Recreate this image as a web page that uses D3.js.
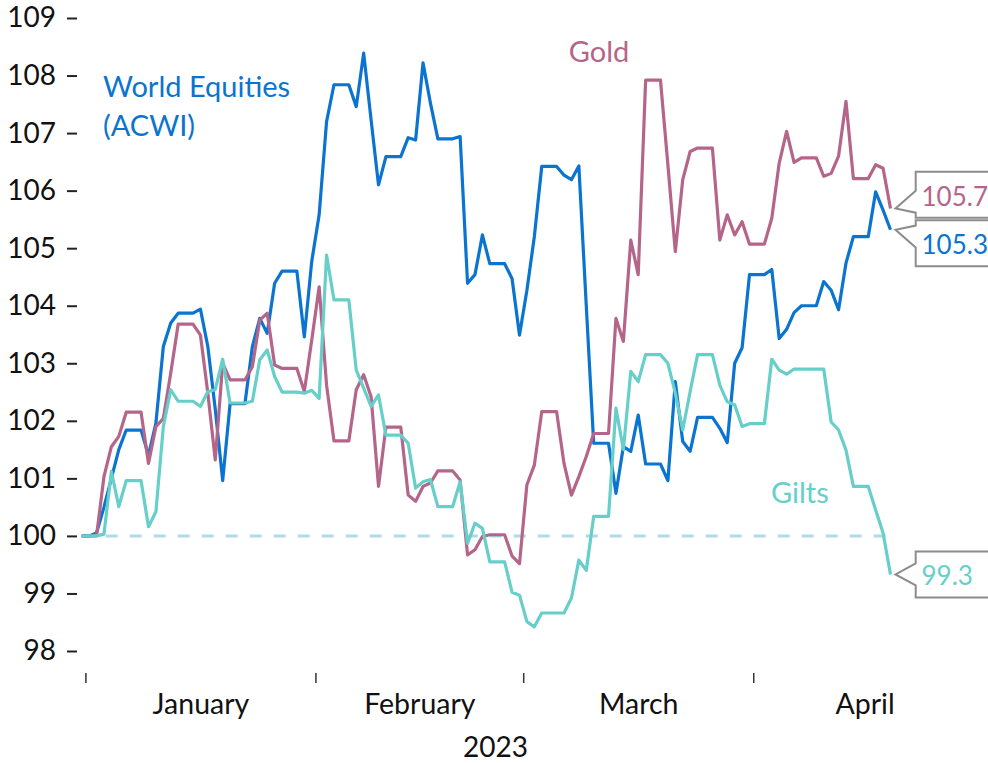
<!DOCTYPE html>
<html>
<head>
<meta charset="utf-8">
<script src="https://cdn.jsdelivr.net/npm/d3@7"></script>
<style>
  body { margin: 0; background: #fff; }
  svg { display: block; }
  text { font-family: Lato, "Open Sans", sans-serif; }
</style>
</head>
<body>
<div id="chart"></div>
<script>
// daily index, rebased to 100 on 31 Dec 2022 (weekends carry Friday's value)
const startDate = new Date(2022, 11, 31);

const equities = [
  100, 100, 100.05, 100.5, 101.0, 101.5, 101.84, 101.84, 101.84, 101.4,
  101.96, 103.29, 103.7, 103.87, 103.87, 103.87, 103.94, 103.29, 102.2, 100.96,
  102.3, 102.3, 102.3, 103.29, 103.78, 103.52, 104.39, 104.6, 104.6, 104.6,
  103.46, 104.77, 105.58, 107.2, 107.84, 107.84, 107.84, 107.46, 108.39, 107.23,
  106.1, 106.59, 106.59, 106.59, 106.92, 106.88, 108.22, 107.52, 106.9, 106.9,
  106.9, 106.94, 104.39, 104.54, 105.23, 104.73, 104.73, 104.73, 104.47, 103.49,
  104.27, 105.2, 106.42, 106.42, 106.42, 106.27, 106.19, 106.43, 104.0, 101.61,
  101.61, 101.61, 100.74, 101.55, 101.47, 102.1, 101.25, 101.25, 101.25, 100.96,
  102.68, 101.64, 101.47, 102.06, 102.06, 102.06, 101.87, 101.62, 103.0, 103.27,
  104.54, 104.54, 104.54, 104.63, 103.43, 103.59, 103.88, 104.0, 104.0, 104.0,
  104.42, 104.27, 103.93, 104.74, 105.2, 105.2, 105.2, 105.98, 105.66, 105.32
];

const gold = [
  100, 100, 100, 101.03, 101.55, 101.73, 102.15, 102.15, 102.15, 101.26,
  101.9, 102.04, 102.83, 103.68, 103.68, 103.68, 103.49, 102.48, 101.32, 103.0,
  102.71, 102.71, 102.71, 102.94, 103.75, 103.87, 102.97, 102.91, 102.91, 102.91,
  102.51, 103.4, 104.33, 102.62, 101.65, 101.65, 101.65, 102.54, 102.8, 102.42,
  100.86, 101.89, 101.89, 101.89, 100.71, 100.6, 100.86, 100.92, 101.13, 101.13,
  101.13, 100.97, 99.67, 99.76, 99.99, 100.02, 100.02, 100.02, 99.65, 99.52,
  100.89, 101.23, 102.16, 102.16, 102.16, 101.26, 100.71, 101.03, 101.38, 101.78,
  101.78, 101.78, 103.78, 103.38, 105.14, 104.54, 107.92, 107.92, 107.92, 106.45,
  104.94, 106.19, 106.68, 106.74, 106.74, 106.74, 105.14, 105.58, 105.23, 105.46,
  105.07, 105.07, 105.07, 105.52, 106.48, 107.03, 106.49, 106.57, 106.57, 106.57,
  106.25, 106.3, 106.6, 107.55, 106.21, 106.21, 106.21, 106.45, 106.39, 105.69
];

const gilts = [
  100, 100, 100, 100.03, 101.12, 100.51, 100.96, 100.96, 100.96, 100.16,
  100.42, 101.9, 102.54, 102.34, 102.34, 102.34, 102.25, 102.51, 102.54, 103.07,
  102.31, 102.31, 102.31, 102.34, 103.06, 103.23, 102.77, 102.5, 102.5, 102.5,
  102.48, 102.53, 102.39, 104.88, 104.1, 104.1, 104.1, 102.88, 102.57, 102.25,
  102.45, 101.75, 101.75, 101.75, 101.61, 100.83, 100.94, 100.98, 100.51, 100.51,
  100.51, 100.94, 99.87, 100.22, 100.13, 99.55, 99.55, 99.55, 99.02, 98.97,
  98.51, 98.42, 98.66, 98.66, 98.66, 98.66, 98.92, 99.58, 99.4, 100.34,
  100.34, 100.34, 102.22, 101.5, 102.86, 102.68, 103.15, 103.15, 103.15, 103.0,
  102.48, 101.84, 102.51, 103.15, 103.15, 103.15, 102.62, 102.33, 102.28, 101.9,
  101.95, 101.95, 101.95, 103.07, 102.88, 102.81, 102.9, 102.9, 102.9, 102.9,
  102.9, 101.98, 101.84, 101.49, 100.86, 100.86, 100.86, 100.45, 100.05, 99.33
];

const seriesNames = ['World Equities (ACWI)', 'Gold', 'Gilts'];
const seriesColors = ['#0a74d0', '#b5658a', '#66cfc9'];
const yTicks = [98, 99, 100, 101, 102, 103, 104, 105, 106, 107, 108, 109];
const monthStarts = [new Date(2023, 0, 1), new Date(2023, 1, 1), new Date(2023, 2, 1), new Date(2023, 3, 1), new Date(2023, 4, 1)];
const monthNames = ['January', 'February', 'March', 'April'];
const yearLabel = '2023';
const baseLevel = 100;

const width = 988, height = 763;
const svg = d3.select('#chart').append('svg')
    .attr('width', width)
    .attr('height', height);

const dates = equities.map((d, i) => d3.timeDay.offset(startDate, i));

const x = d3.scaleTime()
    .domain([startDate, dates[dates.length - 1]])
    .range([81.7, 890.5]);
const y = d3.scaleLinear()
    .domain([98, 109])
    .range([651, 18]);

// y axis: labels with a short dash to their right
const yAxis = d3.axisLeft(y)
    .tickValues(yTicks)
    .tickSize(10)
    .tickPadding(11)
    .tickFormat(d3.format('d'));
const yg = svg.append('g')
    .attr('transform', 'translate(77,0)')
    .call(yAxis);
yg.select('.domain').remove();
yg.selectAll('.tick line').attr('stroke', '#222').attr('stroke-width', 2);
yg.selectAll('.tick text')
    .attr('fill', '#111')
    .style('font-size', '28px')
    .style('font-family', 'Lato, sans-serif');

// x axis: ticks between months, labels centred in each month
const halfDay = d => d3.timeHour.offset(d, -12);
const xTickAxis = d3.axisBottom(x)
    .tickValues(monthStarts.slice(0, 4).map(halfDay))
    .tickSize(10)
    .tickFormat('');
const xg = svg.append('g')
    .attr('transform', 'translate(0,673)')
    .call(xTickAxis);
xg.select('.domain').remove();
xg.selectAll('.tick line').attr('stroke', '#333').attr('stroke-width', 1.5);

const monthMids = monthNames.map((m, i) =>
    new Date((halfDay(monthStarts[i]).getTime() + halfDay(monthStarts[i + 1]).getTime()) / 2));
const xLabelAxis = d3.axisBottom(x)
    .tickValues(monthMids)
    .tickSize(0)
    .tickPadding(0)
    .tickFormat((d, i) => monthNames[i]);
const xl = svg.append('g')
    .attr('transform', 'translate(0,694)')
    .call(xLabelAxis);
xl.select('.domain').remove();
xl.selectAll('.tick text')
    .attr('fill', '#111')
    .attr('dy', '0.71em')
    .style('font-size', '28.5px')
    .style('font-family', 'Lato, sans-serif');

svg.append('text')
    .attr('x', 495.5)
    .attr('y', 757)
    .attr('text-anchor', 'middle')
    .attr('fill', '#111')
    .style('font-size', '28px')
    .text(yearLabel);

// dashed base line at 100
svg.append('line')
    .attr('x1', x.range()[0])
    .attr('x2', x.range()[1] + 3)
    .attr('y1', y(baseLevel))
    .attr('y2', y(baseLevel))
    .attr('stroke', '#aed9e6')
    .attr('stroke-width', 3)
    .attr('stroke-dasharray', '12,12');

// lines
const series = [equities, gold, gilts];
const line = d3.line()
    .x((d, i) => x(dates[i]))
    .y(d => y(d));

svg.append('g').selectAll('path')
    .data(series)
    .enter()
    .append('path')
    .attr('d', line)
    .attr('fill', 'none')
    .attr('stroke', (d, i) => seriesColors[i])
    .attr('stroke-width', 3.2)
    .attr('stroke-linejoin', 'round');

// series names
const nameLabels = svg.append('g').style('font-size', '29px');
nameLabels.append('text')
    .attr('x', 103).attr('y', 97)
    .attr('fill', seriesColors[0])
    .text('World Equities');
nameLabels.append('text')
    .attr('x', 103).attr('y', 136)
    .attr('fill', seriesColors[0])
    .text('(ACWI)');
nameLabels.append('text')
    .attr('x', 599).attr('y', 62)
    .attr('text-anchor', 'middle')
    .attr('fill', seriesColors[1])
    .text(seriesNames[1]);
nameLabels.append('text')
    .attr('x', 771).attr('y', 503)
    .attr('fill', seriesColors[2])
    .text(seriesNames[2]);

// end-value callouts
const boxH = 46, gap = 2.5, boxLeft = 915.7;
const lastX = x(dates[dates.length - 1]);
const callouts = series.map((s, i) => ({
    value: s[s.length - 1],
    tipY: y(s[s.length - 1]),
    color: seriesColors[i]
}));
callouts.forEach(c => c.cy = c.tipY);
// push overlapping boxes apart
const sorted = callouts.slice().sort((a, b) => a.tipY - b.tipY);
for (let k = 1; k < sorted.length; k++) {
    const a = sorted[k - 1], b = sorted[k];
    const need = boxH + gap - (b.cy - a.cy);
    if (need > 0) { a.cy -= need / 2; b.cy += need / 2; }
}

const calloutG = svg.append('g');
callouts.forEach(c => {
    const top = c.cy - boxH / 2, bot = c.cy + boxH / 2;
    const tipX = lastX + 5;
    const baseMid = (c.tipY + c.cy) / 2;
    const b1 = Math.max(top + 2, baseMid - 11), b2 = Math.min(bot - 2, baseMid + 11);
    const p = d3.path();
    p.moveTo(width + 10, top);
    p.lineTo(boxLeft, top);
    p.lineTo(boxLeft, b1);
    p.lineTo(tipX, c.tipY);
    p.lineTo(boxLeft, b2);
    p.lineTo(boxLeft, bot);
    p.lineTo(width + 10, bot);
    calloutG.append('path')
        .attr('d', p.toString())
        .attr('fill', '#fff')
        .attr('stroke', '#8c8c8c')
        .attr('stroke-width', 2)
        .attr('stroke-linejoin', 'miter');
    calloutG.append('text')
        .attr('x', 921.5)
        .attr('y', c.cy + 1)
        .attr('dominant-baseline', 'central')
        .attr('fill', c.color)
        .style('font-size', '26px')
        .text(d3.format('.1f')(c.value));
});
</script>
</body>
</html>
